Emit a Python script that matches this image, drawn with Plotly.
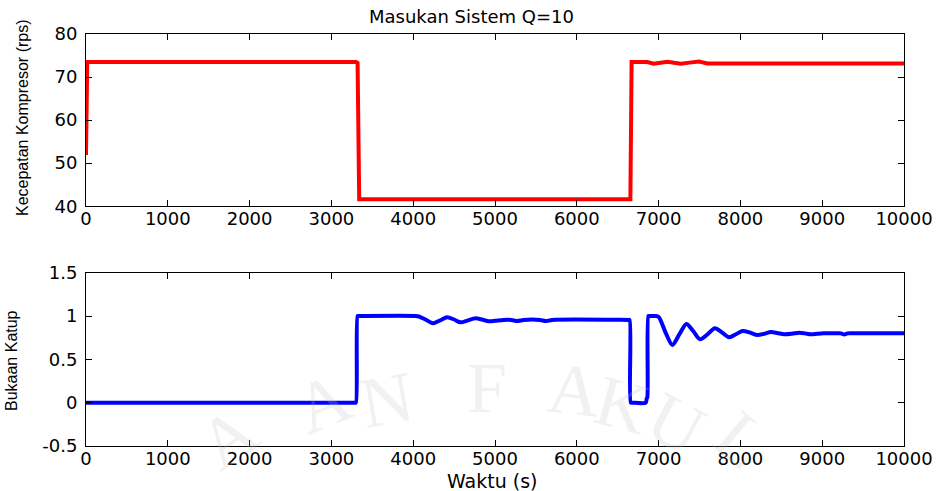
import plotly.graph_objects as go
from plotly.subplots import make_subplots

# Top series: compressor speed (rps)
t_speed = [0, 15, 3300, 3320, 3340, 6640, 6655, 6670, 6862, 6940, 7020, 7107, 7190, 7270, 7380, 7494, 7596, 10000]
v_speed = [51.9, 73.5, 73.5, 73.3, 41.6, 41.6, 41.6, 73.5, 73.5, 73.1, 73.3, 73.55, 73.3, 73.1, 73.35, 73.6, 73.15, 73.15]

# Bottom series: valve opening
t_valve = [0, 3290, 3300, 3320, 3330, 4030, 4068, 4150, 4240, 4330, 4415, 4500, 4578, 4670, 4761, 4840,
           4924, 5000, 5100, 5200, 5271, 5350, 5550, 5618, 5700, 6630, 6645, 6660, 6675, 6842, 6855,
           6862, 6875, 6885, 6960, 7001, 7090, 7169, 7255, 7340, 7420, 7507, 7600, 7687, 7775, 7862,
           7945, 8025, 8115, 8209, 8290, 8372, 8450, 8535, 8630, 8719, 8790, 8862, 8940, 9021, 9150,
           9230, 9269, 9310, 9400, 10000]
v_valve = [0, 0, 0, 1.0, 1.0, 1.0, 0.995, 0.96, 0.916, 0.95, 0.985, 0.96, 0.927, 0.95, 0.973, 0.96,
           0.939, 0.945, 0.955, 0.955, 0.942, 0.955, 0.955, 0.942, 0.955, 0.955, 0.955, 0.0, 0.0, 0.0, 0.05,
           0.06, 1.0, 1.0, 1.0, 0.99, 0.8, 0.666, 0.79, 0.908, 0.83, 0.731, 0.79, 0.858, 0.81, 0.754,
           0.79, 0.827, 0.81, 0.781, 0.795, 0.815, 0.805, 0.789, 0.795, 0.808, 0.80, 0.789, 0.795, 0.80, 0.80,
           0.80, 0.786, 0.80, 0.80, 0.80]

x_ticks = [0, 1000, 2000, 3000, 4000, 5000, 6000, 7000, 8000, 9000, 10000]
x_ticklabels = ["0", "1000", "2000", "3000", "4000", "5000", "6000", "7000", "8000", "9000", "10000"]
y1_ticks = [40, 50, 60, 70, 80]
y2_ticks = [-0.5, 0, 0.5, 1, 1.5]
y2_ticklabels = ["-0.5", "0", "0.5", "1", "1.5"]

title_text = "Masukan Sistem Q=10"
y1_title = "Kecepatan Kompresor (rps)"
y2_title = "Bukaan Katup"
x_title = "Waktu (s)"

TICKFONT = dict(family="DejaVu Sans", size=18, color="black")
fig = make_subplots(rows=2, cols=1)
fig.add_trace(go.Scatter(x=t_speed, y=v_speed, mode="lines",
                         line=dict(color="#ff0000", width=4)), row=1, col=1)
fig.add_trace(go.Scatter(x=t_valve, y=v_valve, mode="lines",
                         line=dict(color="#0000ff", width=4, shape="spline", smoothing=0.8)), row=2, col=1)

axis_common = dict(showline=True, linecolor="black", linewidth=1, mirror="ticks",
                   ticks="inside", ticklen=6, tickcolor="black", showgrid=False,
                   zeroline=False, automargin=False, tickfont=TICKFONT)

fig.update_xaxes(range=[0, 10000], tickvals=x_ticks, ticktext=x_ticklabels, ticklabelstandoff=-4, **axis_common)
fig.update_yaxes(ticklabelstandoff=4, **axis_common)
fig.update_yaxes(range=[40, 80], tickvals=y1_ticks, row=1, col=1)
fig.update_yaxes(range=[-0.5, 1.5], tickvals=y2_ticks, ticktext=y2_ticklabels, row=2, col=1)

fig.update_layout(
    width=941, height=491,
    margin=dict(l=86, r=37, t=34, b=45),
    paper_bgcolor="white", plot_bgcolor="rgba(0,0,0,0)",
    showlegend=False,
)
fig.layout.yaxis.domain = [0.582, 1.0]
fig.layout.yaxis2.domain = [0.0, 0.4206]

W, H = 818, 412
def px(x):
    return (x - 86) / W
def py(y):
    return (446 - y) / H

TXT = dict(family="DejaVu Sans", color="black")
def note(text, x, y, font, angle=0):
    fig.add_annotation(text=text, xref="paper", yref="paper", x=px(x), y=py(y),
                       xanchor="center", yanchor="middle", showarrow=False,
                       textangle=angle, font=font)

# faint watermark letters (drawn first, beneath the labels)
for ch, x0, y0, rot in [("A", 228, 438, -35), ("A", 323, 403, -22), ("N", 387, 400, -10),
                        ("F", 487, 388, 0), ("A", 574, 390, 6), ("K", 622, 405, 15),
                        ("U", 676, 424, 28), ("L", 742, 440, 40)]:
    note(ch, x0, y0, dict(family="Liberation Serif", size=72, color="rgba(190,190,190,0.22)"), rot)

note(title_text, 471, 16, dict(size=18, **TXT))
note(x_title, 492, 481, dict(size=19, **TXT))
note(y1_title, 22, 118, dict(family="Liberation Sans, Arial", size=16, color="black"), -90)
note(y2_title, 11, 361, dict(family="Liberation Sans, Arial", size=16, color="black"), -90)

fig.write_html("out.html", config={"displayModeBar": False},
               post_script="document.body.style.margin='0';")
